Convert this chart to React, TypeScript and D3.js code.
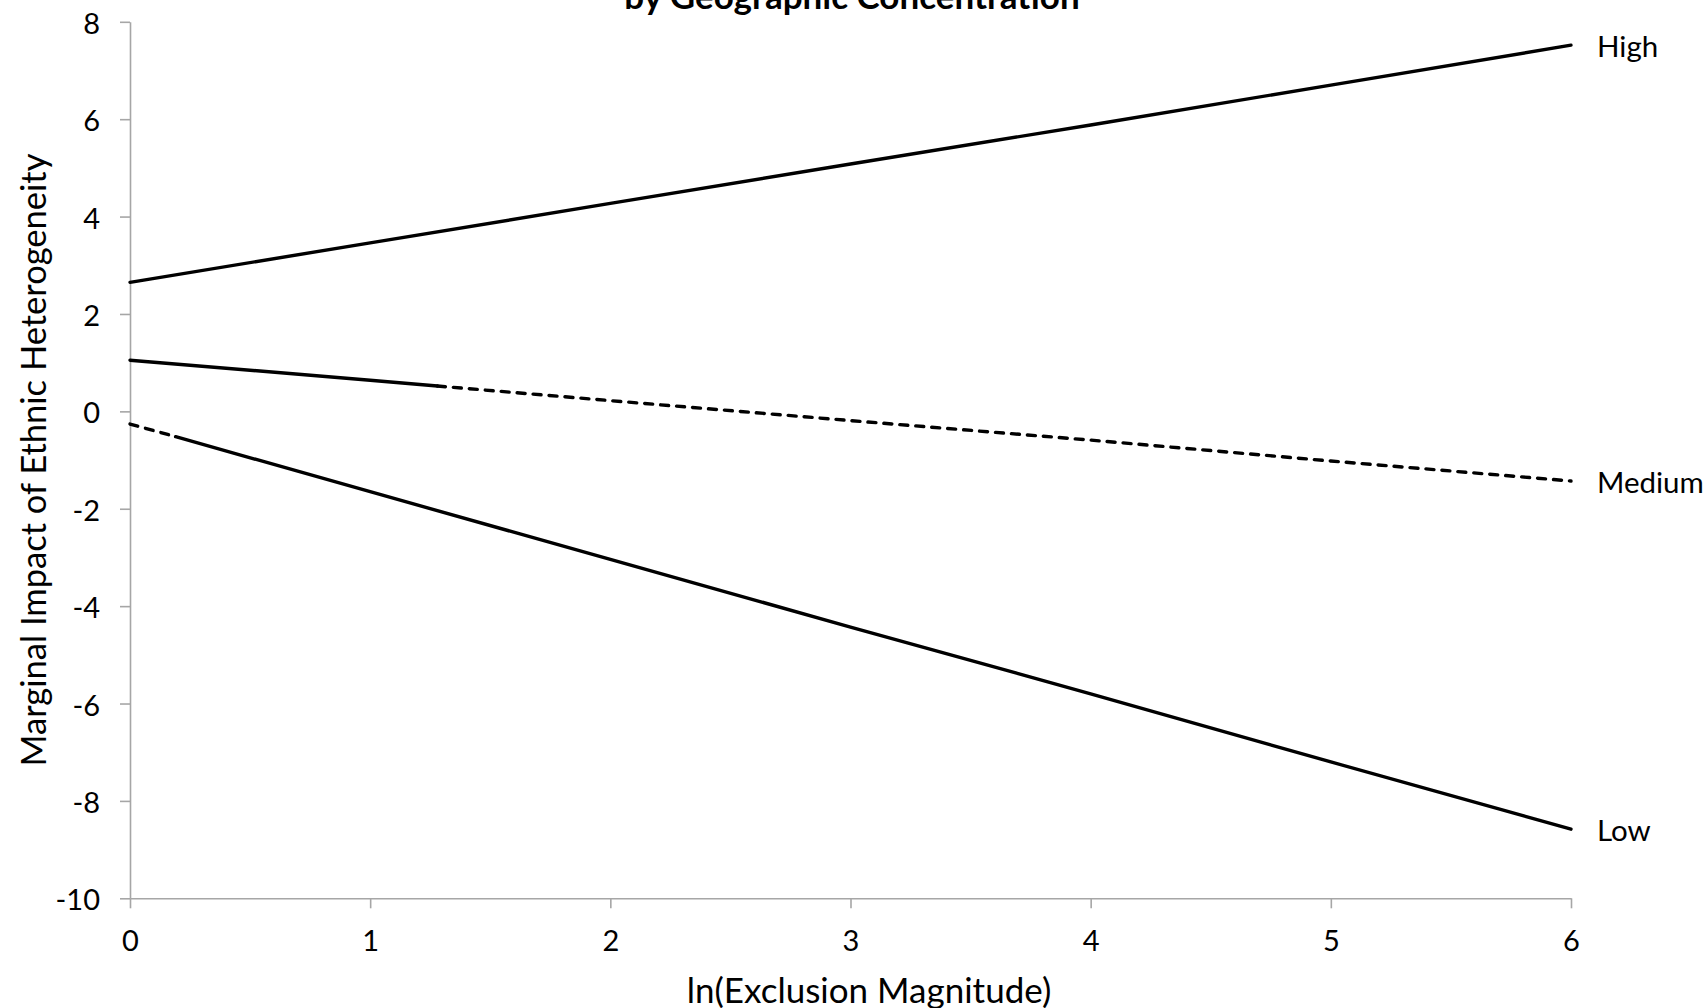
import React, { useEffect, useRef } from 'react';
import * as d3 from 'd3';

// x = ln(Exclusion Magnitude), y = marginal impact
const xTicks = [0, 1, 2, 3, 4, 5, 6];
const yTicks = [-10, -8, -6, -4, -2, 0, 2, 4, 6, 8];

const highX = [0, 1, 2, 3, 4, 5, 6];
const highY = [2.65, 3.46, 4.27, 5.08, 5.88, 6.7, 7.52];

// medium: solid until ~1.28, dashed after
const mediumSolidX = [0, 1, 1.28];
const mediumSolidY = [1.05, 0.64, 0.52];
const mediumDashX = [1.28, 2, 3, 4, 5, 6];
const mediumDashY = [0.52, 0.22, -0.19, -0.59, -1.02, -1.43];

// low: dashed near zero, solid afterwards
const lowDashX = [0, 0.19];
const lowDashY = [-0.26, -0.52];
const lowSolidX = [0.19, 1, 2, 3, 4, 5, 6];
const lowSolidY = [-0.52, -1.65, -3.04, -4.43, -5.8, -7.2, -8.58];

const seriesLabels = ['High', 'Medium', 'Low'];
const labelValues = [7.52, -1.43, -8.58];

const FONT = 'Lato, "Open Sans", sans-serif';

export default function App() {
    const svgRef = useRef<SVGSVGElement>(null);

    useEffect(() => {
        const width = 1708;
        const height = 1008;
        const margin = { top: 21.8, right: 137, bottom: 109.7, left: 130 };

        const svg = d3.select(svgRef.current);
        svg.selectAll('*').remove();

        const x = d3.scaleLinear().domain([0, 6]).range([margin.left, width - margin.right]);
        const y = d3.scaleLinear().domain([-10, 8]).range([height - margin.bottom, margin.top]);

        const axisColor = '#a6a6a6';

        // x axis
        const gx = svg.append('g')
            .attr('transform', `translate(0, ${y(-10)})`)
            .call(d3.axisBottom(x).tickValues(xTicks).tickSize(10).tickSizeOuter(0).tickPadding(22).tickFormat(d => String(d)));
        gx.select('.domain').attr('stroke', axisColor).attr('stroke-width', 1.6);
        gx.selectAll('.tick line').attr('stroke', axisColor).attr('stroke-width', 1.6);
        gx.selectAll('.tick text').attr('font-family', FONT).attr('font-size', 29).attr('fill', '#000');

        // y axis
        const gy = svg.append('g')
            .attr('transform', `translate(${x(0)}, 0)`)
            .call(d3.axisLeft(y).tickValues(yTicks).tickSize(10).tickSizeOuter(0).tickPadding(20).tickFormat(d => String(d)));
        gy.select('.domain').attr('stroke', axisColor).attr('stroke-width', 1.6);
        gy.selectAll('.tick line').attr('stroke', axisColor).attr('stroke-width', 1.6);
        gy.selectAll('.tick text').attr('font-family', FONT).attr('font-size', 29).attr('fill', '#000').attr('dy', '0.4em');

        const line = d3.line<[number, number]>()
            .x(d => x(d[0]))
            .y(d => y(d[1]));

        const drawLine = (xs: number[], ys: number[], dashed: boolean) => {
            svg.append('path')
                .datum(xs.map((v, i) => [v, ys[i]] as [number, number]))
                .attr('d', line)
                .attr('fill', 'none')
                .attr('stroke', '#000')
                .attr('stroke-width', 3.4)
                .attr('stroke-linecap', 'round')
                .attr('stroke-dasharray', dashed ? '8,8' : null);
        };

        drawLine(highX, highY, false);
        drawLine(mediumSolidX, mediumSolidY, false);
        drawLine(mediumDashX, mediumDashY, true);
        drawLine(lowDashX, lowDashY, true);
        drawLine(lowSolidX, lowSolidY, false);

        // series labels at the right end
        svg.append('g')
            .selectAll('text')
            .data(seriesLabels)
            .enter()
            .append('text')
            .attr('x', x(6) + 26)
            .attr('y', (d, i) => y(labelValues[i]) + 12)
            .attr('font-family', FONT)
            .attr('font-size', 29.5)
            .text(d => d);

        // axis titles
        svg.append('text')
            .attr('x', 869)
            .attr('y', 1003)
            .attr('text-anchor', 'middle')
            .attr('font-family', FONT)
            .attr('font-size', 35)
            .text('ln(Exclusion Magnitude)');

        svg.append('text')
            .attr('transform', `translate(46, ${(y(8) + y(-10)) / 2}) rotate(-90)`)
            .attr('text-anchor', 'middle')
            .attr('font-family', FONT)
            .attr('font-size', 34.5)
            .text('Marginal Impact of Ethnic Heterogeneity');

        // chart title (first line lies above the visible area)
        svg.append('text')
            .attr('x', 852)
            .attr('y', 9)
            .attr('text-anchor', 'middle')
            .attr('font-family', FONT)
            .attr('font-weight', 'bold')
            .attr('font-size', 35)
            .text('by Geographic Concentration');
    }, []);

    return (
        <div style={{ position: 'absolute', left: 0, top: 0 }}>
            <svg ref={svgRef} width={1708} height={1008} style={{ display: 'block', background: '#fff' }} />
        </div>
    );
}
